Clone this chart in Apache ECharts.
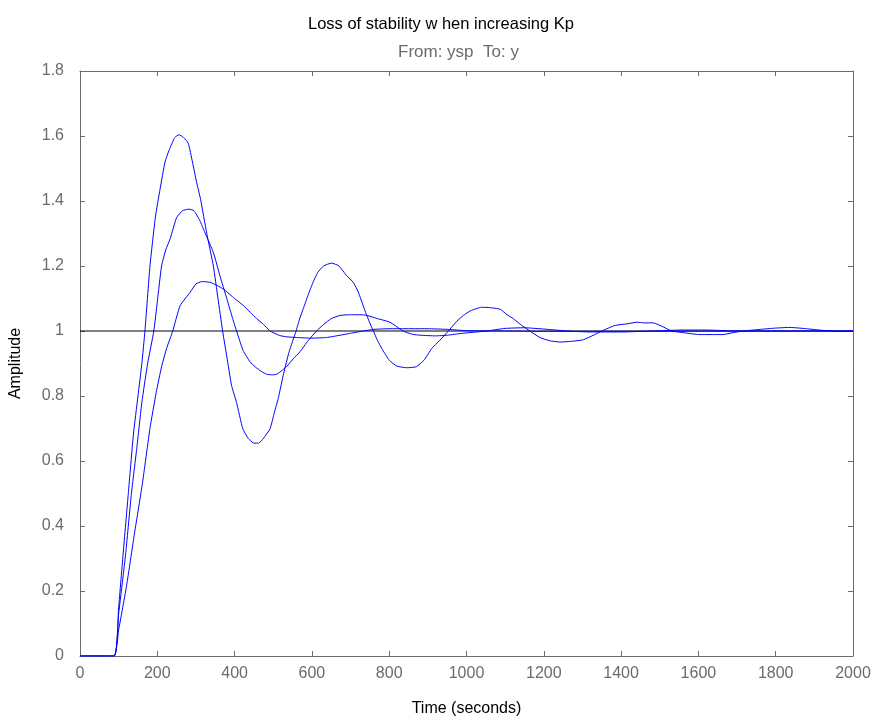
<!DOCTYPE html>
<html>
<head>
<meta charset="utf-8">
<script src="https://cdn.jsdelivr.net/npm/echarts@6/dist/echarts.min.js"></script>
<style>
html,body{margin:0;padding:0;background:#fff;}
#chart{width:875px;height:722px;}
</style>
</head>
<body>
<div id="chart"></div>
<script>
// ---- data ----
const titleText = "Loss of stability w hen increasing Kp";
const subtitleText = "From: ysp  To: y";
const xTicks = [0,200,400,600,800,1000,1200,1400,1600,1800,2000];
const yTicks = [0,0.2,0.4,0.6,0.8,1,1.2,1.4,1.6,1.8];

// highest gain response
const timeA = [0,88,100,112,125,138,150,160,168,181,195,207,220,231,245,256,268,280,291,302,312,328,345,357,369,380,392,405,421,435,450,462,475,492,503,513,527,541,559,569,578,590,603,615,630,651,670,690,707,720,735,748,759,770,781,800,820,845,870,890,910,930,953,975,992,1010,1039,1060,1087,1105,1121,1140,1164,1190,1215,1242,1270,1302,1330,1350,1384,1415,1441,1460,1483,1510,1531,1560,1604,1640,1663,1690,1716,1760,1800,1837,1880,1920,1960,2000];
const valueA = [0,0,0.15,0.32,0.5,0.68,0.80,0.9,1.0,1.2,1.35,1.436,1.52,1.558,1.595,1.604,1.595,1.578,1.52,1.456,1.405,1.30,1.2,1.1,1.0,0.92,0.833,0.78,0.70,0.67,0.655,0.655,0.67,0.70,0.75,0.793,0.87,0.936,1.0,1.04,1.07,1.11,1.15,1.18,1.20,1.209,1.20,1.17,1.15,1.12,1.07,1.03,1.0,0.97,0.946,0.91,0.892,0.887,0.89,0.91,0.946,0.97,1.0,1.03,1.048,1.062,1.073,1.072,1.067,1.05,1.038,1.02,1.0,0.98,0.97,0.966,0.968,0.973,0.988,1.0,1.017,1.022,1.027,1.025,1.025,1.012,1.0,0.995,0.989,0.989,0.989,0.995,1.0,1.005,1.009,1.011,1.007,1.002,0.999,1.0];

// middle gain response
const timeB = [0,88,100,112,119,133,147,160,175,191,200,211,222,233,250,265,282,295,310,323,345,362,380,395,405,422,440,453,470,483,496,509,524,538,552,569,590,612,630,650,673,700,730,745,770,802,836,860,880,920,950,990,1052,1100,1150,1200,1260,1320,1400,1480,1560,1620,1700,2000];
const valueB = [0,0,0.13,0.25,0.324,0.5,0.64,0.78,0.9,1.0,1.09,1.2,1.25,1.283,1.349,1.37,1.375,1.37,1.34,1.303,1.242,1.17,1.099,1.038,1.0,0.94,0.905,0.89,0.875,0.867,0.865,0.867,0.88,0.895,0.915,0.936,0.97,1.0,1.02,1.038,1.048,1.05,1.05,1.047,1.038,1.027,1.0,0.99,0.987,0.985,0.987,0.993,1.0,1.008,1.01,1.006,1.0,0.997,0.997,1.0,1.003,1.003,1.0,1.0];

// lowest gain response
const timeC = [0,88,100,121,140,161,181,197,211,225,240,259,285,300,315,336,355,371,400,423,440,457,475,492,517,535,560,600,638,673,700,733,760,800,900,950,1000,1100,1200,2000];
const valueC = [0,0,0.08,0.22,0.37,0.527,0.70,0.81,0.89,0.95,1.0,1.078,1.119,1.145,1.152,1.15,1.14,1.129,1.1,1.078,1.058,1.038,1.02,1.0,0.986,0.982,0.98,0.978,0.98,0.987,0.993,1.0,1.005,1.007,1.007,1.005,1.001,1.0,0.999,1.0];

// steady-state reference
const refTime = [0,2000];
const refValue = [1,1];

function pairs(t, v){ return t.map((x,i)=>[x, v[i]]); }

const gray = '#6b6b6b';
const font = 'Liberation Sans, Arial, sans-serif';

const chart = echarts.init(document.getElementById('chart'), null, {renderer:'canvas'});
const blueLine = (name, t, v) => ({
  name, type:'line', data: pairs(t,v), showSymbol:false, symbol:'none', smooth:0.15,
  lineStyle:{color:'#0000ff', width:1}, itemStyle:{color:'#0000ff'}, animation:false, z:3
});

chart.setOption({
  animation:false,
  backgroundColor:'#ffffff',
  title:[
    {text:titleText, left:303, top:11, textStyle:{fontFamily:font, fontSize:16.5, fontWeight:'normal', color:'#000'}},
    {text:subtitleText, left:393, top:39, textStyle:{fontFamily:font, fontSize:17, fontWeight:'normal', color:gray}}
  ],
  grid:{left:80, right:22, top:71, bottom:63, containLabel:false},
  xAxis:[
    {type:'value', min:0, max:2000, interval:200, position:'bottom',
     name:'Time (seconds)', nameLocation:'middle', nameGap:45,
     nameTextStyle:{fontFamily:font, fontSize:16, color:'#000'},
     axisLine:{show:true, onZero:false, lineStyle:{color:gray, width:1}},
     axisTick:{show:true, inside:true, length:5, lineStyle:{color:gray}},
     axisLabel:{fontFamily:font, fontSize:16, color:gray, margin:10,
       formatter:v=>String(Math.round(v))},
     splitLine:{show:false}},
    {type:'value', min:0, max:2000, interval:200, position:'top',
     axisLine:{show:true, onZero:false, lineStyle:{color:gray, width:1}},
     axisTick:{show:true, inside:true, length:5, lineStyle:{color:gray}},
     axisLabel:{show:false}, splitLine:{show:false}}
  ],
  yAxis:[
    {type:'value', min:0, max:1.8, interval:0.2, position:'left',
     name:'Amplitude', nameLocation:'middle', nameGap:56, nameRotate:90,
     nameTextStyle:{fontFamily:font, fontSize:16, color:'#000'},
     axisLine:{show:true, onZero:false, lineStyle:{color:gray, width:1}},
     axisTick:{show:true, inside:true, length:5, lineStyle:{color:gray}},
     axisLabel:{fontFamily:font, fontSize:16, color:gray, margin:16,
       formatter:v=>String(+v.toFixed(1))},
     splitLine:{show:false}},
    {type:'value', min:0, max:1.8, interval:0.2, position:'right',
     axisLine:{show:true, onZero:false, lineStyle:{color:gray, width:1}},
     axisTick:{show:true, inside:true, length:5, lineStyle:{color:gray}},
     axisLabel:{show:false}, splitLine:{show:false}}
  ],
  series:[
    {name:'reference', type:'line', data:pairs(refTime, refValue), showSymbol:false, symbol:'none',
     lineStyle:{color:'#000', width:1}, z:2},
    blueLine('high', timeA, valueA),
    blueLine('mid', timeB, valueB),
    blueLine('low', timeC, valueC)
  ]
});
</script>
</body>
</html>
